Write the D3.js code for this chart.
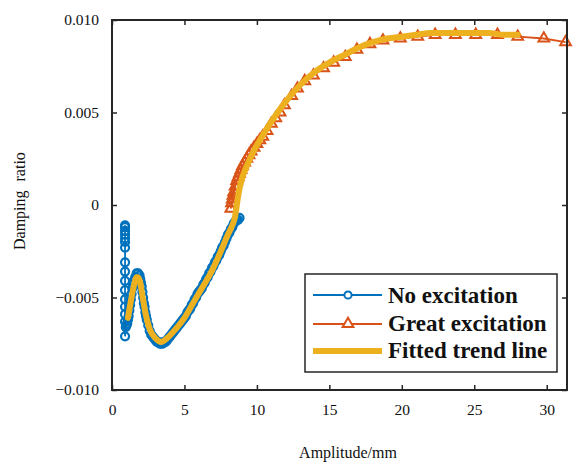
<!DOCTYPE html>
<html>
<head>
<meta charset="utf-8">
<script src="https://cdn.jsdelivr.net/npm/d3@7"></script>
<style>
  body { margin: 0; background: #fff; }
  text { font-family: "Liberation Serif", "Times New Roman", serif; fill: #111; }
</style>
</head>
<body>
<div id="chart"></div>
<script>
// Datos
const noExcX = [0.9, 0.9, 0.9, 0.9, 0.9, 0.9, 0.9, 0.9, 0.9, 0.9, 0.9, 0.9, 0.9, 0.9, 0.9, 0.9,
  0.95, 1.0, 1.05, 1.1, 1.15, 1.2, 1.25, 1.3, 1.35, 1.4, 1.45, 1.5, 1.6, 1.7, 1.8, 1.9, 1.95, 2.0, 2.05,
  2.1, 2.15, 2.2, 2.25, 2.3, 2.35,
  2.4, 2.5, 2.6, 2.7, 2.8, 2.9, 3.0, 3.1, 3.2, 3.3, 3.4, 3.5, 3.6, 3.7, 3.8, 3.9, 4.0, 4.1, 4.2, 4.3,
  4.4, 4.5, 4.6, 4.7, 4.8, 4.9, 5.0, 5.1, 5.2, 5.3, 5.4, 5.5, 5.6, 5.7, 5.8, 5.9, 6.0, 6.1, 6.2, 6.3,
  6.4, 6.5, 6.6, 6.7, 6.8, 6.9, 7.0, 7.1, 7.2, 7.3, 7.4, 7.5, 7.6, 7.7, 7.8, 7.9, 8.0, 8.1, 8.2, 8.3,
  8.4, 8.5, 8.6, 8.7, 8.8];
const noExcY = [-0.0011, -0.0012, -0.0014, -0.0016, -0.0018, -0.0020, -0.0023, -0.0031, -0.0036, -0.0041,
  -0.0046, -0.0051, -0.0055, -0.0059, -0.0063, -0.0071,
  -0.0066, -0.0065, -0.0064, -0.0062, -0.0060, -0.0057, -0.0054, -0.0051, -0.0048, -0.0045, -0.0043,
  -0.0041, -0.0039, -0.0037, -0.0037, -0.0038, -0.0040, -0.0042, -0.0044, -0.0047, -0.0050, -0.0053,
  -0.0055, -0.0058, -0.0060,
  -0.0062, -0.0065, -0.0068, -0.0070, -0.0071, -0.0072, -0.0073, -0.0074, -0.0074, -0.0075, -0.0075,
  -0.0075, -0.0074, -0.0074, -0.0073, -0.0072, -0.0071, -0.0070, -0.0069, -0.0068, -0.0067, -0.0066,
  -0.0065, -0.0064, -0.0063, -0.0062, -0.0061, -0.0060, -0.0058, -0.0057, -0.0056, -0.0054, -0.0053,
  -0.0051, -0.0050, -0.0048, -0.0047, -0.0046, -0.0045, -0.0043, -0.0042, -0.0040, -0.0039, -0.0037,
  -0.0036, -0.0034, -0.0033, -0.0031, -0.0030, -0.0028, -0.0027, -0.0025, -0.0023, -0.0022, -0.0020,
  -0.0018, -0.0016, -0.0015, -0.0013, -0.0012, -0.0010, -0.0009, -0.0008, -0.0008, -0.0007];

const greatX = [8.2, 8.25, 8.3, 8.35, 8.4, 8.5, 8.6, 8.7, 8.8, 8.9, 9.0, 9.15, 9.3, 9.45, 9.6, 9.8, 10.0,
  10.2, 10.4, 10.7, 11.0, 11.3, 11.6, 11.9, 12.4, 12.8, 13.3, 13.9, 14.6, 15.3, 16.1, 16.9, 17.8, 18.7,
  19.9, 21.1, 22.3, 23.7, 25.1, 26.6, 28.0, 29.8, 31.3];
const greatY = [-0.0002, 0.0001, 0.0003, 0.0005, 0.0007, 0.0010, 0.0013, 0.0015, 0.0017, 0.0019, 0.0021,
  0.0023, 0.0025, 0.0027, 0.0029, 0.0031, 0.0033, 0.0035, 0.0037, 0.0040, 0.0044, 0.0047, 0.0050, 0.0054,
  0.0059, 0.0063, 0.0067, 0.0070, 0.0074, 0.0077, 0.0080, 0.0084, 0.0087, 0.0089, 0.0090, 0.0091, 0.0092,
  0.0092, 0.0092, 0.0092, 0.0091, 0.0090, 0.0088];

const fitX = [1.1, 1.3, 1.5, 1.7, 1.8, 1.95, 2.1, 2.3, 2.6, 3.0, 3.4, 3.8, 4.4, 5.0, 5.6, 6.2, 6.8, 7.4,
  8.0, 8.3, 8.5, 8.65, 8.8, 9.0, 9.3, 9.7, 10.2, 11, 12, 13, 14, 15, 16, 17, 18, 19, 20, 21, 22, 23, 24,
  25, 26, 27, 28];
const fitY = [-0.0061, -0.0052, -0.0044, -0.0039, -0.0039, -0.0042, -0.0049, -0.0058, -0.0067, -0.0072,
  -0.0074, -0.0072, -0.0067, -0.0061, -0.0053, -0.0045, -0.0037, -0.0027, -0.0016, -0.0011, -0.0006,
  0.0002, 0.0009, 0.0015, 0.0021, 0.0028, 0.0035, 0.0045, 0.0056, 0.0065, 0.0072, 0.0077, 0.0081, 0.0085,
  0.0088, 0.0090, 0.0091, 0.0092, 0.0093, 0.0093, 0.0093, 0.0093, 0.0093, 0.0092, 0.0092];

const xTicks = [0, 5, 10, 15, 20, 25, 30];
const yTicks = [-0.010, -0.005, 0, 0.005, 0.010];
const legendLabels = ["No excitation", "Great excitation", "Fitted trend line"];

const blue = "#0072BD", orange = "#D95319", yellow = "#EDB120";

// Configuración
const W = 584, H = 464;
const plot = { left: 112, right: 567, top: 20, bottom: 390 };

const svg = d3.select("#chart").append("svg")
  .attr("width", W).attr("height", H);

svg.append("rect").attr("width", W).attr("height", H).attr("fill", "white");

const x = d3.scaleLinear().domain([0, 31.4]).range([plot.left, plot.right]);
const y = d3.scaleLinear().domain([-0.010, 0.010]).range([plot.bottom, plot.top]);

const zip = (xs, ys) => xs.map((v, i) => [v, ys[i]]);
const noExc = zip(noExcX, noExcY);
const great = zip(greatX, greatY);
const fit = zip(fitX, fitY);

const line = d3.line().x(d => x(d[0])).y(d => y(d[1]));
const smooth = d3.line().x(d => x(d[0])).y(d => y(d[1])).curve(d3.curveMonotoneX);

// Sin excitación
svg.append("path").datum(noExc).attr("d", line)
  .attr("fill", "none").attr("stroke", blue).attr("stroke-width", 1.8);
svg.append("g").selectAll("circle").data(noExc).join("circle")
  .attr("cx", d => x(d[0])).attr("cy", d => y(d[1])).attr("r", 4)
  .attr("fill", "none").attr("stroke", blue).attr("stroke-width", 2.2);

// Gran excitación
const tri = d3.symbol().type(d3.symbolTriangle).size(50);
svg.append("path").datum(great).attr("d", line)
  .attr("fill", "none").attr("stroke", orange).attr("stroke-width", 1.8);
svg.append("g").selectAll("path").data(great).join("path")
  .attr("d", tri)
  .attr("transform", d => `translate(${x(d[0])},${y(d[1])})`)
  .attr("fill", "none").attr("stroke", orange).attr("stroke-width", 2);

// Línea de tendencia
svg.append("path").datum(fit).attr("d", smooth)
  .attr("fill", "none").attr("stroke", yellow).attr("stroke-width", 6)
  .attr("stroke-linecap", "round").attr("stroke-linejoin", "round");

// Ejes (caja con ticks hacia dentro)
const axisCol = "#262626";
const fmtY = v => v === 0 ? "0" : d3.format(".3f")(v).replace("-", "\u2212");

svg.append("g").attr("transform", `translate(0,${plot.bottom})`)
  .call(d3.axisBottom(x).tickValues(xTicks).tickSize(-5).tickPadding(14).tickFormat(d3.format("d")))
  .call(g => g.select(".domain").remove());
svg.append("g").attr("transform", `translate(0,${plot.top})`)
  .call(d3.axisTop(x).tickValues(xTicks).tickSize(-5).tickFormat(""))
  .call(g => g.select(".domain").remove());
svg.append("g").attr("transform", `translate(${plot.left},0)`)
  .call(d3.axisLeft(y).tickValues(yTicks).tickSize(-5).tickPadding(13).tickFormat(fmtY))
  .call(g => g.select(".domain").remove());
svg.append("g").attr("transform", `translate(${plot.right},0)`)
  .call(d3.axisRight(y).tickValues(yTicks).tickSize(-5).tickFormat(""))
  .call(g => g.select(".domain").remove());

svg.selectAll(".tick line").attr("stroke", axisCol).attr("stroke-width", 1.5);
svg.selectAll(".tick text").style("font-size", "15.5px")
  .style("font-family", "'Liberation Serif', 'Times New Roman', serif").attr("fill", "#111");

svg.append("rect")
  .attr("x", plot.left).attr("y", plot.top)
  .attr("width", plot.right - plot.left).attr("height", plot.bottom - plot.top)
  .attr("fill", "none").attr("stroke", axisCol).attr("stroke-width", 2);

// Etiquetas
svg.append("text")
  .attr("x", 348).attr("y", 458)
  .attr("text-anchor", "middle")
  .style("font-size", "16px")
  .text("Amplitude/mm");

const yl = svg.append("text")
  .attr("transform", "translate(25,250) rotate(-90)")
  .attr("text-anchor", "start")
  .style("font-size", "16px")
  .text("Damping");
yl.append("tspan").attr("dx", 5).text(" ratio");

// Leyenda
const lg = svg.append("g");
lg.append("rect")
  .attr("x", 305).attr("y", 274).attr("width", 252).attr("height", 98)
  .attr("fill", "white").attr("stroke", axisCol).attr("stroke-width", 1.5);

const rowsY = [295, 324, 351];
const baseY = [303, 331, 358];
const colors = [blue, orange, yellow];
legendLabels.forEach((lab, i) => {
  const ry = rowsY[i];
  lg.append("line").attr("x1", 313).attr("x2", 382).attr("y1", ry).attr("y2", ry)
    .attr("stroke", colors[i]).attr("stroke-width", i === 2 ? 6 : 1.8);
  if (i === 0) {
    lg.append("circle").attr("cx", 348).attr("cy", ry).attr("r", 3.6)
      .attr("fill", "white").attr("stroke", blue).attr("stroke-width", 2);
  } else if (i === 1) {
    lg.append("path").attr("d", tri).attr("transform", `translate(348,${ry})`)
      .attr("fill", "white").attr("stroke", orange).attr("stroke-width", 2);
  }
  lg.append("text").attr("x", 388).attr("y", baseY[i])
    .style("font-size", "23px").style("font-weight", "bold")
    .text(lab);
});
</script>
</body>
</html>
